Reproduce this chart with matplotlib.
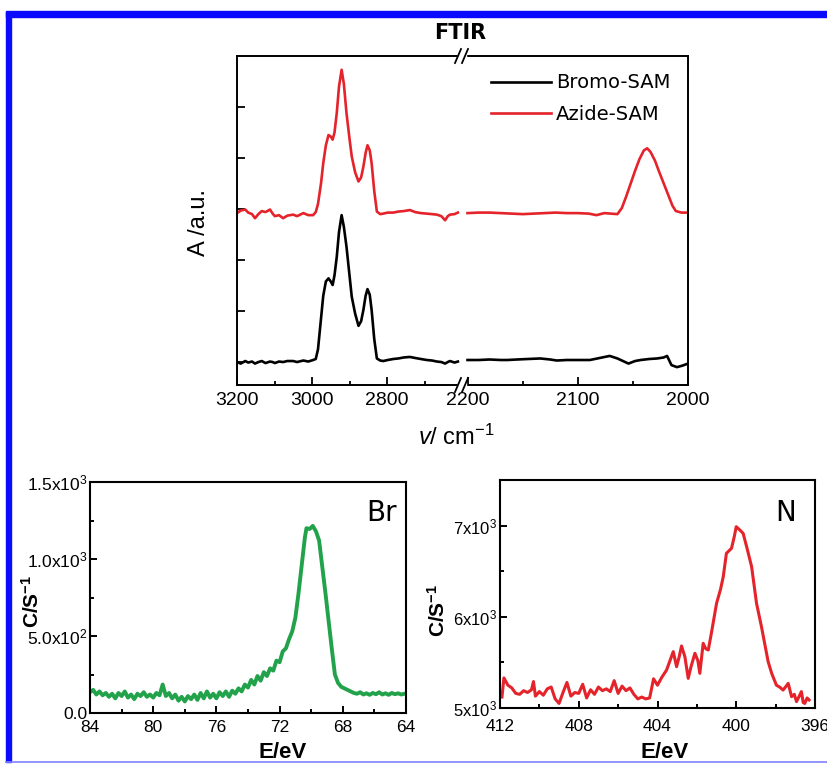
import numpy as np
import matplotlib
matplotlib.use('Agg')
import matplotlib.pyplot as plt
from matplotlib.lines import Line2D
from matplotlib.patches import Rectangle

plt.rcParams['font.family'] = 'Liberation Sans'
plt.rcParams['mathtext.fontset'] = 'custom'
plt.rcParams['mathtext.rm'] = 'Liberation Sans'
plt.rcParams['mathtext.it'] = 'Liberation Sans:italic'
plt.rcParams['mathtext.bf'] = 'Liberation Sans:bold'

# ── FTIR data (left segment 3200-2600, right segment 2200-2000) ──
ftir_left_x = [3200, 3190, 3178, 3170, 3160, 3152, 3143, 3134, 3124, 3112,
               3105, 3099, 3088, 3077, 3066, 3050, 3040, 3023, 3010, 2997,
               2990, 2984, 2976, 2970, 2963, 2956, 2950, 2945, 2940, 2934,
               2928, 2921, 2915, 2908, 2900, 2894, 2885, 2876, 2869, 2863,
               2857, 2852, 2846, 2841, 2834, 2827, 2818, 2810, 2798, 2783,
               2770, 2755, 2739, 2725, 2710, 2694, 2680, 2667, 2655, 2645,
               2638, 2632, 2620, 2611]
azide_left = [2.92, 2.97, 2.99, 2.93, 2.90, 2.82, 2.90, 2.96, 2.94, 2.99,
              2.91, 2.86, 2.88, 2.82, 2.87, 2.89, 2.86, 2.92, 2.88, 2.88,
              2.94, 3.10, 3.50, 3.90, 4.25, 4.45, 4.42, 4.36, 4.50, 4.88,
              5.40, 5.73, 5.45, 4.88, 4.38, 4.03, 3.72, 3.54, 3.62, 3.83,
              4.10, 4.25, 4.15, 3.90, 3.35, 2.95, 2.90, 2.91, 2.93, 2.93,
              2.95, 2.96, 2.98, 2.94, 2.92, 2.91, 2.90, 2.89, 2.86, 2.78,
              2.86, 2.89, 2.90, 2.93]
bromo_left = [0.00, -0.03, 0.02, -0.01, 0.01, -0.03, 0.00, 0.02, -0.02, 0.01,
              0.00, -0.02, 0.01, 0.00, 0.02, 0.02, 0.00, 0.03, 0.01, 0.04,
              0.06, 0.25, 0.85, 1.30, 1.58, 1.64, 1.58, 1.51, 1.70, 2.06,
              2.55, 2.88, 2.65, 2.26, 1.70, 1.28, 0.95, 0.71, 0.80, 1.02,
              1.30, 1.43, 1.32, 1.02, 0.45, 0.07, 0.03, 0.02, 0.04, 0.06,
              0.07, 0.09, 0.10, 0.08, 0.06, 0.04, 0.03, 0.01, 0.00, -0.03,
              0.00, 0.02, -0.01, 0.01]

azide_right_x = [2200, 2190, 2180, 2170, 2160, 2150, 2140, 2130, 2120, 2110,
                 2100, 2090, 2083, 2076, 2070, 2064, 2060, 2056, 2052, 2048,
                 2044, 2040, 2037, 2034, 2030, 2026, 2022, 2018, 2014, 2011,
                 2006, 2000]
azide_right = [2.92, 2.93, 2.93, 2.92, 2.91, 2.90, 2.91, 2.92, 2.93, 2.92,
               2.92, 2.91, 2.88, 2.92, 2.91, 2.90, 3.02, 3.25, 3.50, 3.75,
               3.98, 4.15, 4.19, 4.12, 3.95, 3.72, 3.50, 3.28, 3.06, 2.96,
               2.93, 2.93]
bromo_right_x = [2200, 2190, 2180, 2170, 2164, 2155, 2145, 2134, 2125, 2119,
                 2110, 2100, 2089, 2080, 2071, 2064, 2054, 2048, 2043, 2035,
                 2028, 2022, 2019, 2015, 2010, 2005, 2000]
bromo_right = [0.04, 0.04, 0.05, 0.04, 0.04, 0.05, 0.06, 0.07, 0.05, 0.03,
               0.04, 0.04, 0.04, 0.08, 0.12, 0.07, -0.03, 0.02, 0.04, 0.06,
               0.07, 0.09, 0.12, -0.06, -0.10, -0.07, -0.03]

# ── XPS Br 3d ──
br_E = [84.0, 83.8, 83.6, 83.4, 83.2, 83.0, 82.8, 82.6, 82.4, 82.2,
        82.0, 81.8, 81.6, 81.4, 81.2, 81.0, 80.8, 80.6, 80.4, 80.2,
        80.0, 79.8, 79.6, 79.4, 79.2, 79.0, 78.8, 78.6, 78.4, 78.2,
        78.0, 77.8, 77.6, 77.4, 77.2, 77.0, 76.8, 76.6, 76.4, 76.2,
        76.0, 75.8, 75.6, 75.4, 75.2, 75.0, 74.8, 74.6, 74.4, 74.2,
        74.0, 73.8, 73.6, 73.4, 73.2, 73.0, 72.8, 72.6, 72.4, 72.2,
        72.0, 71.8, 71.6, 71.4, 71.2, 71.0, 70.8, 70.6, 70.4, 70.3,
        70.1, 69.9, 69.7, 69.5, 69.3, 69.1, 68.9, 68.7, 68.5, 68.3,
        68.1, 67.9, 67.7, 67.5, 67.3, 67.1, 66.9, 66.7, 66.5, 66.3,
        66.1, 65.9, 65.7, 65.5, 65.3, 65.1, 64.9, 64.7, 64.5, 64.3,
        64.1, 64.0]
br_I = [135, 150, 120, 140, 115, 130, 105, 125, 95, 130,
        110, 140, 100, 120, 90, 125, 110, 135, 105, 120,
        100, 130, 115, 185, 110, 130, 95, 120, 80, 105,
        75, 110, 90, 120, 85, 130, 95, 140, 100, 125,
        95, 135, 110, 140, 105, 145, 125, 160, 140, 185,
        165, 215, 185, 240, 210, 265, 240, 290, 275, 340,
        330, 400, 420, 480, 530, 620, 780, 960, 1140, 1200,
        1195, 1215, 1180, 1120, 950, 780, 600, 420, 250, 195,
        170, 160, 150, 140, 130, 125, 135, 120, 128, 118,
        130, 122, 135, 120, 128, 118, 130, 122, 128, 120,
        125, 127]

# ── XPS N 1s ──
n_E = [411.9, 411.8, 411.6, 411.4, 411.2, 411.0, 410.8, 410.6, 410.4, 410.3,
       410.2, 410.0, 409.8, 409.6, 409.4, 409.2, 409.0, 408.8, 408.6, 408.4,
       408.2, 408.0, 407.8, 407.6, 407.4, 407.2, 407.0, 406.8, 406.6, 406.4,
       406.2, 406.0, 405.8, 405.6, 405.4, 405.2, 405.0, 404.8, 404.6, 404.4,
       404.2, 404.0, 403.8, 403.54, 403.2, 403.03, 402.9, 402.78, 402.61, 402.44,
       402.3, 402.1, 401.95, 401.85, 401.68, 401.55, 401.42, 401.25, 401.0, 400.8,
       400.66, 400.5, 400.24, 400.1, 400.0, 399.82, 399.65, 399.45, 399.22, 398.97,
       398.72, 398.55, 398.38, 398.2, 397.96, 397.8, 397.62, 397.5, 397.36, 397.19,
       397.05, 396.94, 396.8, 396.69, 396.6, 396.52, 396.4, 396.3]
n_I = [5120, 5330, 5250, 5220, 5160, 5150, 5190, 5170, 5200, 5290,
       5130, 5180, 5140, 5210, 5230, 5100, 5050, 5170, 5280, 5130,
       5170, 5160, 5260, 5110, 5200, 5150, 5230, 5190, 5210, 5180,
       5300, 5160, 5240, 5190, 5220, 5150, 5100, 5120, 5100, 5110,
       5320, 5250, 5330, 5416, 5618, 5453, 5560, 5680, 5563, 5325,
       5450, 5600, 5520, 5380, 5709, 5650, 5636, 5837, 6148, 6300,
       6440, 6696, 6751, 6880, 6988, 6952, 6915, 6750, 6550, 6148,
       5892, 5700, 5508, 5380, 5250, 5230, 5197, 5230, 5270, 5124,
       5150, 5070, 5130, 5180, 5060, 5050, 5110, 5088]

RED = '#e4232b'
GREEN = '#22a34b'
BLUE = '#0a0aff'

W, H = 828, 764
fig = plt.figure(figsize=(W / 100, H / 100), dpi=100)


def box(x0, y0, x1, y1):
    return [x0 / W, 1 - y1 / H, (x1 - x0) / W, (y1 - y0) / H]


def fx(px):
    return px / W


def fy(py):
    return 1 - py / H


comic = 'DejaVu Sans'

# ── FTIR (broken x axis) ──
axL = fig.add_axes(box(237, 56, 462, 385))
axR = fig.add_axes(box(462, 56, 688, 385))

axL.plot(ftir_left_x, bromo_left, color='black', lw=1.9)
axL.plot(ftir_left_x, azide_left, color=RED, lw=1.9)
axR.plot(bromo_right_x, bromo_right, color='black', lw=1.9, label='Bromo-SAM')
axR.plot(azide_right_x, azide_right, color=RED, lw=1.9, label='Azide-SAM')

axL.set_xlim(3200, 2600)
axR.set_xlim(2205, 2000)
for ax in (axL, axR):
    ax.set_ylim(-0.45, 6.0)
    for s in ax.spines.values():
        s.set_linewidth(1.4)
axL.spines['right'].set_visible(False)
axR.spines['left'].set_visible(False)

axL.set_xticks([3200, 3000, 2800])
axL.set_xticks([3100, 2900, 2700], minor=True)
axR.set_xticks([2200, 2100, 2000])
axR.set_xticks([2150, 2050], minor=True)
axL.set_yticks([0, 1, 2, 3, 4, 5])
axL.set_yticklabels([])
axR.set_yticks([])
for ax in (axL, axR):
    ax.tick_params(which='major', direction='in', length=6, width=1.3,
                   labelsize=14, pad=5)
    ax.tick_params(which='minor', direction='in', length=3, width=1.3)

axR.legend(loc='upper right', frameon=False, handlelength=3.1,
           handletextpad=0.25, labelspacing=0.65, borderaxespad=0.5,
           prop={'family': comic, 'size': 14})

fig.text(fx(460), fy(33), 'FTIR', ha='center', va='center',
         fontsize=15, fontweight='bold', family=comic)
fig.text(fx(199), fy(223), 'A /a.u.', ha='center', va='center',
         rotation=90, fontsize=17)
fig.text(fx(456), fy(437), r'$v$/ cm$^{-1}$', ha='center', va='center',
         fontsize=17)

# break marks on the x axis
for y in (56, 385):
    fig.add_artist(Rectangle((fx(458), fy(y + 2)), 8 / W, 4 / H,
                             transform=fig.transFigure, color='white',
                             zorder=5))
    for x in (455, 462):
        fig.add_artist(Line2D([fx(x), fx(x + 6)], [fy(y + 7), fy(y - 7)],
                              transform=fig.transFigure, color='black',
                              lw=1.3, zorder=6))

# ── XPS Br ──
axB = fig.add_axes(box(90, 482, 406, 713))
axB.plot(br_E, br_I, color=GREEN, lw=2.8)
axB.set_xlim(84, 64)
axB.set_ylim(0, 1500)
axB.set_xticks([84, 80, 76, 72, 68, 64])
axB.set_xticks([82, 78, 74, 70, 66], minor=True)
axB.set_yticks([0, 500, 1000, 1500])
axB.set_yticklabels(['0.0', r'5.0x10$^{2}$', r'1.0x10$^{3}$', r'1.5x10$^{3}$'])
axB.set_yticks([250, 750, 1250], minor=True)
axB.text(0.875, 0.83, 'Br', transform=axB.transAxes, fontsize=20,
         family=comic, ha='left', va='baseline')
fig.text(fx(32), fy(601), r'C/S$^{\mathbf{-1}}$', ha='center', va='center',
         rotation=90, fontsize=15, fontweight='bold')
fig.text(fx(283), fy(752), 'E/eV', ha='center', va='center',
         fontsize=16, fontweight='bold')

# ── XPS N ──
axN = fig.add_axes(box(500, 480, 815, 708))
axN.plot(n_E, n_I, color=RED, lw=2.2)
axN.set_xlim(412, 396)
axN.set_ylim(5000, 7500)
axN.set_xticks([412, 408, 404, 400, 396])
axN.set_xticks([410, 406, 402, 398], minor=True)
axN.set_yticks([5000, 6000, 7000])
axN.set_yticklabels([r'5x10$^{3}$', r'6x10$^{3}$', r'7x10$^{3}$'])
axN.set_yticks([5500, 6500], minor=True)
axN.text(0.908, 0.82, 'N', transform=axN.transAxes, fontsize=20,
         family=comic, ha='center', va='baseline')
fig.text(fx(438), fy(610), r'C/S$^{\mathbf{-1}}$', ha='center', va='center',
         rotation=90, fontsize=15, fontweight='bold')
fig.text(fx(665), fy(752), 'E/eV', ha='center', va='center',
         fontsize=16, fontweight='bold')

for ax in (axB, axN):
    for s in ax.spines.values():
        s.set_linewidth(1.5)
    ax.tick_params(which='major', direction='in', length=5, width=1.4,
                   labelsize=12.5, pad=2)
    ax.tick_params(which='minor', direction='in', length=3, width=1.4)
    ax.tick_params(axis='x', pad=5)
axN.tick_params(axis='y', labelsize=12)
axN.tick_params(axis='x', pad=8)

# ── blue frame ──
fig.add_artist(Rectangle((fx(6), fy(16.5)), 1, 5.5 / H,
                         transform=fig.transFigure, color=BLUE, zorder=10))
fig.add_artist(Rectangle((fx(6), fy(762)), 5 / W, 750 / H,
                         transform=fig.transFigure, color=BLUE, zorder=10))
fig.add_artist(Line2D([fx(6), 1], [fy(762), fy(762)],
                      transform=fig.transFigure, color='#8080ff',
                      lw=1.2, zorder=10))

fig.savefig('out.png', dpi=100)
